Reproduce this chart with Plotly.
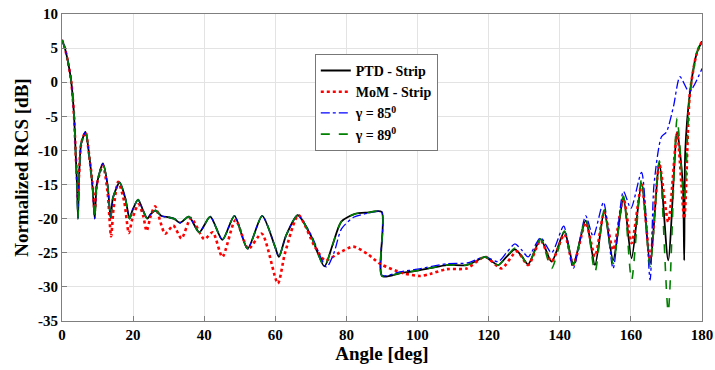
import plotly.graph_objects as go

# ---- data ----
ptd_ang = [0, 0.8, 1.6, 2.6, 3.4, 3.8, 4.2, 4.5, 4.8, 5.4, 6.6, 7.8, 8.6, 9.2, 9.8, 11.5, 12.8, 13.7,
           14.3, 16.2, 17.8, 19.0, 19.8, 21.4, 22.8, 24.0, 25.0, 26.3, 28.0, 30.0, 31.5, 33.2, 35.7,
           38.6, 41.7, 45.1, 48.5, 52.2, 56.3, 59.9, 61.0, 63.0, 66.3, 70.0, 73.8, 76.0, 78.6, 82.4,
           86.0, 89.9, 90.0, 95.0, 100.0, 104.0, 108.2, 113.8, 116.5, 119.0, 121.0, 122.7, 125.0,
           127.4, 129.3, 131.1, 134.6, 137.7, 141.3, 143.8, 147.3, 149.9, 152.5, 155.0, 157.9, 160.2,
           163.0, 165.4, 168.0, 170.5, 173.0, 174.6, 175.0, 175.3, 176.6, 178.5, 180.0]
ptd_val = [6.2, 5.0, 3.2, 0.1, -5.0, -9.9, -14.7, -20.0, -13.9, -9.0, -7.3, -11.4, -15.5, -20.0, -15.0,
           -11.9, -15.0, -20.0, -17.0, -14.7, -17.0, -20.0, -18.8, -17.2, -18.8, -20.0, -19.3, -18.8,
           -19.6, -19.8, -20.0, -20.6, -19.7, -22.0, -19.7, -23.1, -19.6, -24.4, -19.6, -24.1, -25.6,
           -22.5, -19.5, -22.5, -27.0, -24.0, -20.4, -19.3, -19.1, -19.0, -28.4, -28.0, -27.6, -27.2,
           -26.8, -26.8, -26.2, -25.6, -26.3, -26.8, -25.6, -24.5, -25.5, -26.7, -23.0, -26.3, -21.9,
           -26.6, -20.3, -26.8, -18.9, -26.1, -17.0, -25.8, -14.8, -26.5, -11.9, -26.1, -7.3, -15.0,
           -26.1, -10.0, -1.6, 4.2, 6.0]

mom_ang = [0, 0.8, 1.6, 2.6, 3.4, 3.8, 4.2, 4.5, 4.8, 5.4, 6.6, 7.8, 8.6, 9.2, 9.8, 11.5, 12.8, 13.8,
           14.5, 15.8, 17.5, 18.8, 19.8, 21.5, 22.8, 23.8, 25.0, 26.2, 29.0, 31.3, 33.6, 36.3, 40.0,
           42.4, 45.1, 48.8, 52.4, 56.2, 60.7, 62.7, 66.5, 71.1, 74.0, 78.0, 81.9, 86.0, 89.4, 96.0,
           100.7, 103.5, 108.2, 113.8, 119.0, 123.6, 127.9, 131.1, 134.6, 137.7, 141.3, 143.8, 147.3,
           149.9, 152.5, 155.0, 157.9, 160.2, 163.0, 165.4, 168.0, 170.5, 173.0, 175.0, 176.6, 178.5,
           180.0]
mom_val = [6.2, 5.0, 3.2, 0.1, -5.0, -9.9, -14.0, -17.0, -13.5, -9.0, -7.3, -11.4, -15.0, -19.0, -15.0,
           -12.2, -16.0, -22.6, -18.5, -14.6, -17.5, -22.1, -20.0, -17.9, -19.5, -21.8, -19.5, -18.2,
           -22.2, -21.0, -22.9, -19.9, -23.0, -22.0, -25.6, -20.2, -24.4, -22.2, -29.5, -25.1, -19.5,
           -24.1, -26.1, -25.0, -24.1, -25.2, -26.6, -28.0, -28.4, -28.1, -27.4, -27.3, -25.6, -27.3,
           -24.8, -26.8, -23.2, -26.3, -22.3, -26.8, -20.6, -25.5, -19.0, -24.6, -17.0, -23.6, -15.0,
           -26.0, -12.0, -20.5, -7.5, -20.0, -1.6, 4.2, 6.0]

g85_ang = [0, 0.8, 1.6, 2.6, 3.4, 3.8, 4.2, 4.5, 4.8, 5.4, 6.6, 7.8, 8.6, 9.2, 9.8, 11.5, 12.8, 13.7,
           14.3, 16.2, 17.8, 19.0, 19.8, 21.4, 22.8, 24.0, 25.0, 26.3, 28.0, 30.0, 31.5, 33.2, 35.7,
           38.6, 41.7, 45.1, 48.5, 52.2, 56.3, 59.9, 61.0, 63.0, 66.3, 70.0, 74.4, 76.5, 78.6, 82.0,
           86.0, 89.9, 90.0, 95.0, 100.0, 108.2, 114.0, 116.5, 119.0, 122.7, 125.0, 127.4, 129.3,
           131.1, 134.6, 137.7, 141.1, 143.8, 147.3, 149.4, 152.3, 155.0, 157.9, 160.0, 163.0, 165.4,
           166.5, 168.6, 170.0, 172.0, 173.8, 176.4, 180.0]
g85_val = [6.2, 5.0, 3.2, 0.1, -5.0, -9.9, -14.7, -20.0, -13.9, -9.0, -7.3, -11.4, -15.5, -20.0, -15.0,
           -11.9, -15.0, -20.0, -17.0, -14.7, -17.0, -20.0, -18.8, -17.2, -18.8, -20.0, -19.3, -18.8,
           -19.6, -19.8, -20.0, -20.6, -19.7, -22.0, -19.7, -23.1, -19.6, -24.4, -19.6, -24.1, -25.6,
           -22.5, -19.5, -22.3, -27.1, -25.0, -21.5, -19.8, -19.2, -19.0, -28.3, -27.8, -27.4, -26.6,
           -26.5, -26.0, -25.6, -26.3, -25.0, -23.7, -24.6, -25.6, -22.8, -25.0, -21.1, -27.3, -19.6,
           -22.6, -17.6, -27.3, -16.0, -18.5, -13.2, -29.0, -15.0, -8.0, -7.3, -3.5, 0.8, -1.4, 2.0]

g89_ang = [0, 0.8, 1.6, 2.6, 3.4, 3.8, 4.2, 4.5, 4.8, 5.4, 6.6, 7.8, 8.6, 9.2, 9.8, 11.5, 12.8, 13.7,
           14.3, 16.2, 17.8, 19.0, 19.8, 21.4, 22.8, 24.0, 25.0, 26.3, 28.0, 30.0, 31.5, 33.2, 35.7,
           38.6, 41.7, 45.1, 48.5, 52.2, 56.3, 59.9, 61.0, 63.0, 66.3, 70.0, 73.8, 76.0, 78.6, 82.4,
           86.0, 89.9, 90.0, 95.0, 100.0, 104.0, 108.2, 113.8, 116.5, 119.0, 121.0, 122.7, 125.0,
           127.4, 129.3, 131.1, 134.6, 137.7, 141.3, 143.8, 147.3, 149.9, 152.5, 155.0, 157.9, 160.2,
           163.0, 165.4, 168.0, 170.5, 173.0, 175.0, 176.6, 178.5, 180.0]
g89_val = [6.2, 5.0, 3.2, 0.1, -5.0, -9.9, -14.7, -20.0, -13.9, -9.0, -7.3, -11.4, -15.5, -20.0, -15.0,
           -11.9, -15.0, -20.0, -17.0, -14.7, -17.0, -20.0, -18.8, -17.2, -18.8, -20.0, -19.3, -18.8,
           -19.6, -19.8, -20.0, -20.6, -19.7, -22.0, -19.7, -23.1, -19.6, -24.4, -19.6, -24.1, -25.6,
           -22.5, -19.5, -22.5, -27.0, -24.0, -20.4, -19.3, -19.1, -19.0, -28.4, -28.0, -27.6, -27.2,
           -26.8, -26.8, -26.2, -25.6, -26.3, -26.8, -25.6, -24.3, -25.5, -26.7, -23.0, -27.3, -21.8,
           -26.8, -20.0, -27.8, -18.7, -26.6, -16.7, -29.0, -14.2, -27.0, -11.5, -33.6, -5.3, -17.0,
           -1.6, 4.2, 6.6]

names = ["PTD - Strip", "MoM - Strip", "γ = 85<sup>0</sup>", "γ = 89<sup>0</sup>"]
x_ticks = [0, 20, 40, 60, 80, 100, 120, 140, 160, 180]
y_ticks = [10, 5, 0, -5, -10, -15, -20, -25, -30, -35]

series = [
    (ptd_ang, ptd_val, dict(color="black", width=1.8, dash="solid")),
    (mom_ang, mom_val, dict(color="#ff0000", width=2.6, dash="dot")),
    (g85_ang, g85_val, dict(color="#0000ff", width=1.3, dash="dashdot")),
    (g89_ang, g89_val, dict(color="#008000", width=1.6, dash="dash")),
]

fig = go.Figure()
for (xa, ya, ln), nm in zip(series, names):
    ln = dict(ln, shape="spline", smoothing=0.7)
    fig.add_trace(go.Scatter(x=xa, y=ya, mode="lines", name=nm, line=ln))

font_family = "Liberation Serif"
fig.update_layout(
    width=715, height=370,
    margin=dict(l=62, r=13, t=14, b=49, autoexpand=False),
    paper_bgcolor="white", plot_bgcolor="white",
    font=dict(family=font_family, color="black"),
    showlegend=True,
    legend=dict(x=0.395, y=0.87, xanchor="left", yanchor="top",
                bgcolor="white", bordercolor="#777777", borderwidth=1,
                font=dict(family=font_family, size=14, color="black", weight="bold"),
                itemwidth=30, tracegroupgap=0),
)
fig.update_xaxes(range=[0, 180], tickvals=x_ticks, ticktext=[f"<b>{t}</b>" for t in x_ticks],
                 automargin=False,
                 showgrid=True, gridcolor="#e3e3e3", gridwidth=1,
                 showline=True, linecolor="#7f7f7f", linewidth=1, mirror=True,
                 ticks="inside", ticklen=5, tickcolor="#7f7f7f",
                 tickfont=dict(family=font_family, size=15, color="black"),
                 title=dict(text="<b>Angle [deg]</b>", font=dict(family=font_family, size=19), standoff=2),
                 zeroline=False)
fig.update_yaxes(range=[-35, 10], tickvals=y_ticks, ticktext=[f"<b>{t}</b>" for t in y_ticks],
                 automargin=False,
                 showgrid=True, gridcolor="#e3e3e3", gridwidth=1,
                 showline=True, linecolor="#7f7f7f", linewidth=1, mirror=True,
                 ticks="inside", ticklen=5, tickcolor="#7f7f7f",
                 tickfont=dict(family=font_family, size=15, color="black"),
                 title=dict(text="<b>Normalized RCS [dB]</b>", font=dict(family=font_family, size=19), standoff=4),
                 zeroline=False)

fig.write_html("out.html", config={"displayModeBar": False},
               post_script="document.body.style.margin='0';document.body.style.overflow='hidden';")
